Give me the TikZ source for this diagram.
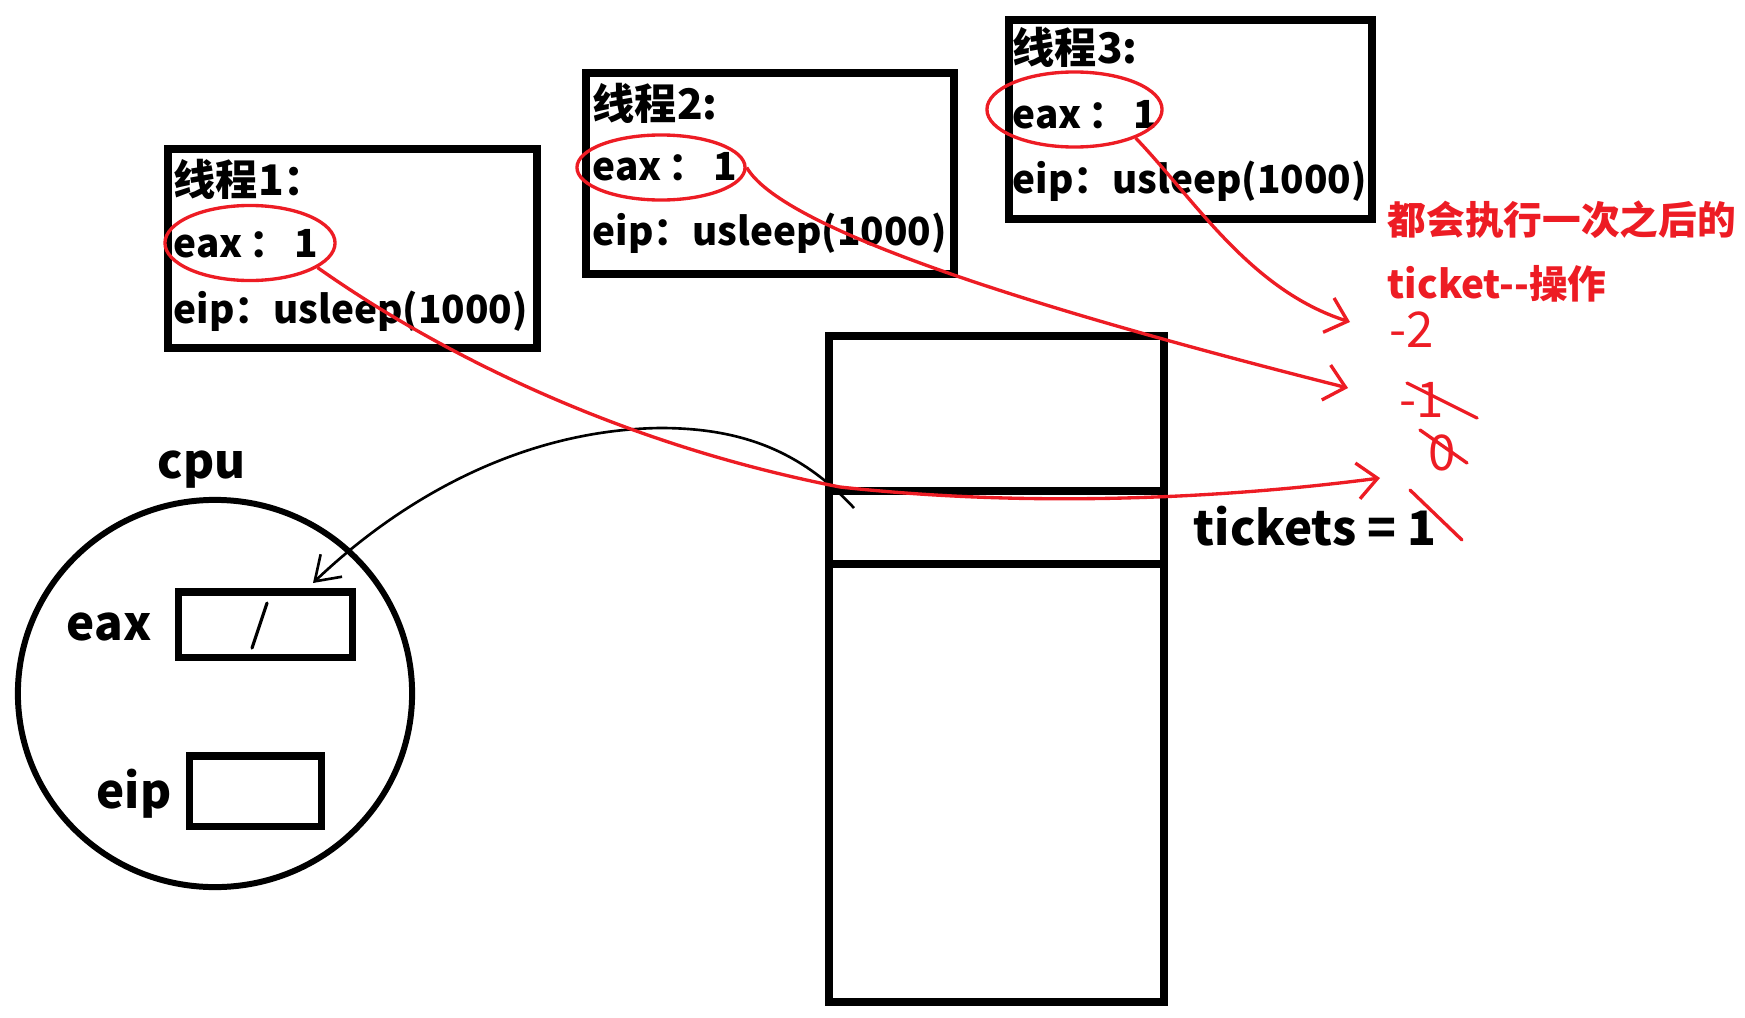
\documentclass[tikz,border=0pt]{standalone}
\usepackage{fontspec}
\setmainfont{Noto Sans CJK SC}
\usetikzlibrary{arrows.meta,shapes.geometric}
\definecolor{penred}{HTML}{ED1C24}

\begin{document}
\begin{tikzpicture}[
  x=0.01cm, y=-0.01cm,
  font=\bfseries\fontsize{11pt}{13pt}\selectfont,
  box/.style={draw, line width=2.3pt, inner sep=0pt},
  reg/.style={draw, line width=2pt, inner sep=0pt},
  txt/.style={anchor=base west, inner sep=0pt},
  head/.style={txt, font=\bfseries\fontsize{12pt}{14pt}\selectfont},
  big/.style={font=\bfseries\fontsize{13.5pt}{16pt}\selectfont, inner sep=0pt, anchor=base},
  hilite/.style={ellipse, draw=penred, line width=0.95pt, inner sep=0pt},
  rl/.style={penred, line width=0.95pt, -{Straight Barb[length=2mm,width=3.6mm]}},
  bl/.style={line width=0.75pt, -{Straight Barb[length=2.3mm,width=3.1mm]}},
  note/.style={text=penred, anchor=base west, inner sep=0pt,
               font=\bfseries\fontsize{11pt}{13pt}\selectfont},
  hand/.style={text=penred, inner sep=0pt, font=\fontsize{14pt}{16pt}\selectfont},
  strike/.style={penred, line width=0.95pt, line cap=round}
]
\useasboundingbox (0,0) rectangle (1745,1018);
% ----- three threads, each with its saved registers -----
\node[box, minimum width=3.69cm, minimum height=1.99cm] (t1) at (352.5,248.5) {};
\node[head] (t1a) at (173,195) {线程1：};
\node[txt] (t1b) at (173,257) {eax\,：\,1};
\node[txt] (t1c) at (173,323) {eip：usleep(1000)};
\node[box, minimum width=3.68cm, minimum height=2.01cm] (t2) at (770,173.5) {};
\node[head] (t2a) at (592,120) {线程2:};
\node[txt] (t2b) at (592,180) {eax\,：\,1};
\node[txt] (t2c) at (592,245) {eip：usleep(1000)};
\node[box, minimum width=3.63cm, minimum height=1.99cm] (t3) at (1190.5,119.5) {};
\node[head] (t3a) at (1012,63) {线程3:};
\node[txt] (t3b) at (1012,128) {eax\,：\,1};
\node[txt] (t3c) at (1012,193) {eip：usleep(1000)};
% ----- red loops round each saved eax -----
\node[hilite, minimum width=1.70cm, minimum height=0.75cm] (e1) at (250,243) {};
\node[hilite, minimum width=1.68cm, minimum height=0.65cm] (e2) at (661,167.5) {};
\node[hilite, minimum width=1.75cm, minimum height=0.75cm] (e3) at (1074.5,109.5) {};
% ----- memory, the tickets cell in the middle -----
\node[box, minimum width=3.35cm, minimum height=1.55cm] (mtop) at (996.5,413.5) {};
\node[box, minimum width=3.35cm, minimum height=0.73cm] (mcell) at (996.5,527.5) {};
\node[box, minimum width=3.35cm, minimum height=4.38cm] (mbot) at (996.5,783) {};
\node[big, anchor=base west] (tk) at (1193,545) {tickets = 1};
% ----- cpu -----
\node[ellipse, draw, line width=1.7pt, minimum width=3.94cm, minimum height=3.87cm,
      inner sep=0pt] (cpu) at (215,693.5) {};
\node[big] (cpul) at (201.5,478) {cpu};
\node[reg, minimum width=1.73cm, minimum height=0.65cm] (reax) at (265.5,624.5) {};
\node[reg, minimum width=1.31cm, minimum height=0.70cm] (reip) at (255.5,791) {};
\node[big] (leax) at (109,640) {eax};
\node[big] (leip) at (134,808) {eip};
\draw[line width=0.9pt, line cap=round] (267,603) -- (252,648);
% ----- load tickets into eax -----
\coordinate (src) at (854,508);
\coordinate (hit) at (313,583);
\draw[bl] (src) .. controls (800,450) and (740,428) .. (660,428)
          .. controls (520,430) and (400,500) .. (hit);
% ----- each thread writes back its own ticket-- -----
\coordinate (a1) at (1380,478);
\coordinate (a2) at (1348,388);
\coordinate (a3) at (1350,322);
\draw[rl] (e1.-20) .. controls (420,340) and (600,440) .. (840,487)
          .. controls (1050,510) and (1250,495) .. (a1);
\draw[rl] (e2.east) .. controls (780,225) and (1000,300) .. (a2);
\draw[rl] (e3.-25) .. controls (1195,200) and (1250,290) .. (a3);
% ----- notes -----
\node[note] (n1) at (1387,234) {都会执行一次之后的};
\node[note] (n2) at (1387,298) {ticket-{}-操作};
\node[hand] (d2) at (1412,330) {-2};
\node[hand] (d1) at (1422,400) {-1};
\node[hand] (d0) at (1442,453) {0};
\draw[strike] (1407,383) -- (1477,418);
\draw[strike] (1420,430) -- (1467,463);
\draw[strike] (1410,490) -- (1462,540);
\end{tikzpicture}
\end{document}
